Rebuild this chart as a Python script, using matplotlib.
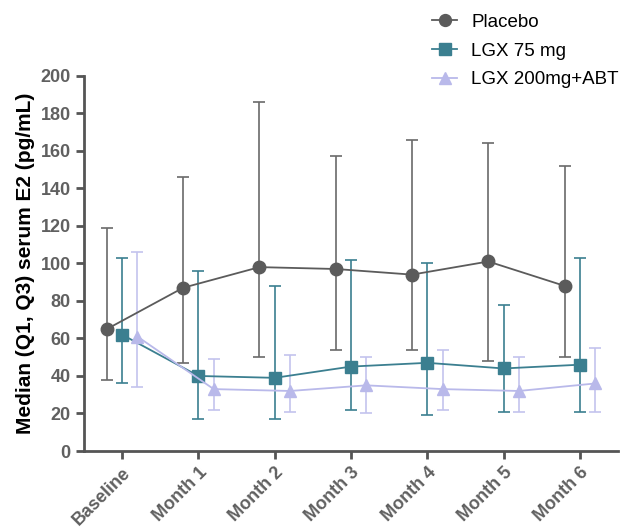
import matplotlib
matplotlib.use("Agg")
import matplotlib.pyplot as plt
import numpy as np

plt.rcParams['font.family'] = ['Liberation Sans', 'DejaVu Sans']

categories = ["Baseline", "Month 1", "Month 2", "Month 3", "Month 4", "Month 5", "Month 6"]

placebo_med = [65, 87, 98, 97, 94, 101, 88]
placebo_q1 = [38, 47, 50, 54, 54, 48, 50]
placebo_q3 = [119, 146, 186, 157, 166, 164, 152]

lgx75_med = [62, 40, 39, 45, 47, 44, 46]
lgx75_q1 = [36, 17, 17, 22, 19, 21, 21]
lgx75_q3 = [103, 96, 88, 102, 100, 78, 103]

lgx200_med = [61, 33, 32, 35, 33, 32, 36]
lgx200_q1 = [34, 22, 21, 20, 22, 21, 21]
lgx200_q3 = [106, 49, 51, 50, 54, 50, 55]

series = [
    ("Placebo", placebo_med, placebo_q1, placebo_q3, -0.2, 'o', '#5b5b5b', '#6a6a6a', 9),
    ("LGX 75 mg", lgx75_med, lgx75_q1, lgx75_q3, 0.0, 's', '#3b7f90', '#3b7f90', 9),
    ("LGX 200mg+ABT", lgx200_med, lgx200_q1, lgx200_q3, 0.2, '^', '#b9b9ea', '#c3c3ee', 9),
]

fig = plt.figure(figsize=(6.25, 5.29), dpi=100)
ax = fig.add_axes([0.1344, 0.1474, 0.8544, 0.7095])

x = np.arange(len(categories))
handles = []
for name, med, q1, q3, off, mk, col, ecol, ms in series:
    med = np.array(med); q1 = np.array(q1); q3 = np.array(q3)
    xx = x + off
    ax.errorbar(xx, med, yerr=[med - q1, q3 - med], fmt='none', ecolor=ecol,
                elinewidth=1.2, capsize=4.5, capthick=1.2, zorder=2)
    h, = ax.plot(xx, med, color=col, lw=1.3, marker=mk, ms=ms, mfc=col, mec=col, zorder=3, label=name)
    handles.append(h)

ax.set_xlim(-0.5, 6.5)
ax.set_ylim(0, 200)
ax.set_yticks(range(0, 201, 20))
ax.set_xticks(x)
ax.set_xticklabels(categories, rotation=45, ha='right', rotation_mode='anchor')
for s in ['top', 'right']:
    ax.spines[s].set_visible(False)
for s in ['left', 'bottom']:
    ax.spines[s].set_color('#555555')
    ax.spines[s].set_linewidth(2)
ax.tick_params(axis='both', colors='#555555', width=2, length=6, labelsize=13)
for lab in ax.get_xticklabels() + ax.get_yticklabels():
    lab.set_fontweight('bold')
    lab.set_color('#606060')
ax.set_ylabel("Median (Q1, Q3) serum E2 (pg/mL)", fontsize=15, fontweight='bold', color='black', labelpad=4)

fig.legend(handles=handles, loc='upper left', bbox_to_anchor=(0.664, 1.006), frameon=False,
           fontsize=13.5, handlelength=1.35, labelspacing=0.62, handletextpad=0.75,
           markerscale=0.95)

fig.savefig("out.png", dpi=100)
